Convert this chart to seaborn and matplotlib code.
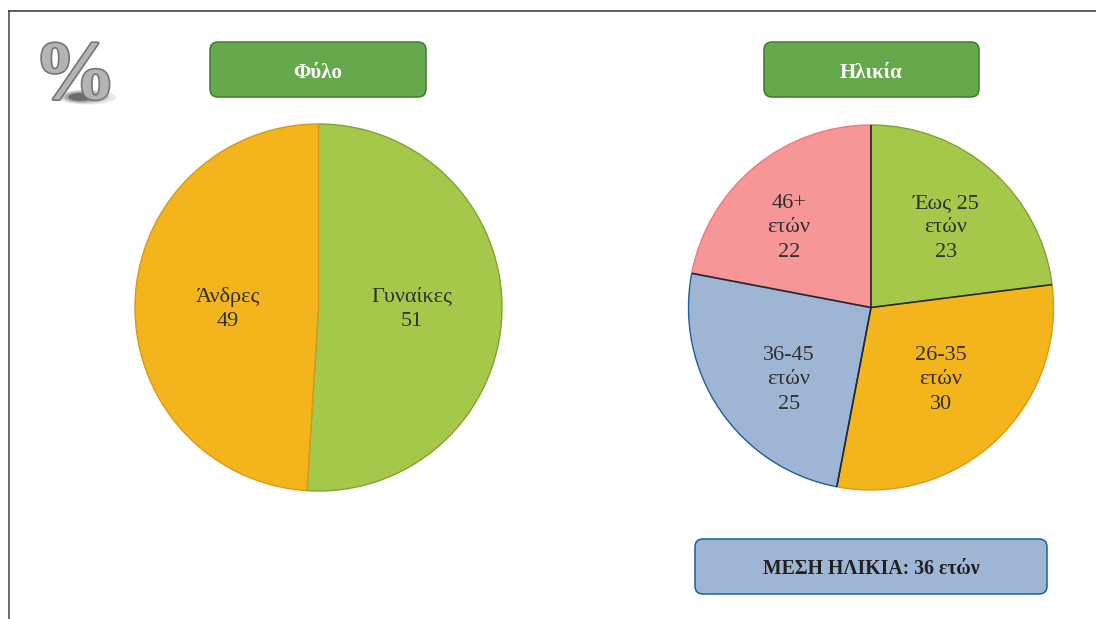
import matplotlib
matplotlib.use("Agg")
import matplotlib.pyplot as plt
import matplotlib.patheffects as pe
from matplotlib.patches import FancyBboxPatch, Ellipse
import numpy as np
import seaborn as sns

sns.set_theme(style="white")
plt.rcParams['font.family'] = ['Liberation Serif', 'DejaVu Serif']

W, H = 1096, 619

gender_labels = ["Γυναίκες\n51", "Άνδρες\n49"]
gender_values = [51, 49]
gender_colors = ["#A5C84A", "#F3B51B"]
gender_edges = ["#7FA52E", "#D99A1C"]

age_labels = ["Έως 25\nετών\n23", "26-35\nετών\n30", "36-45\nετών\n25", "46+\nετών\n22"]
age_values = [23, 30, 25, 22]
age_colors = ["#A5C84A", "#F3B51B", "#9FB5D4", "#F69696"]
age_edges = ["#7FA52E", "#D99A1C", "#1A5F9E", "#EE7B7B"]

fig = plt.figure(figsize=(W / 100, H / 100), dpi=100, facecolor="white")

# Overlay in pixel units for frame, header boxes and labels
canvas = fig.add_axes([0, 0, 1, 1], zorder=3)
canvas.set_xlim(0, W)
canvas.set_ylim(H, 0)
canvas.axis("off")
canvas.patch.set_alpha(0)


def pie_axes(cx, cy, r):
    return fig.add_axes([(cx - r) / W, 1 - (cy + r) / H, 2 * r / W, 2 * r / H])


def draw_pie(ax, values, colors, edges, spoke):
    wedges, _ = ax.pie(values, colors=colors, startangle=90, counterclock=False,
                       radius=1.0, wedgeprops={"linewidth": 1.0})
    for wedge, edge in zip(wedges, edges):
        wedge.set_edgecolor(edge)
    # Dark spokes separating the slices, taken from the wedge angles
    if spoke:
        for wedge in wedges:
            angle = np.deg2rad(wedge.theta1)
            ax.plot([0, np.cos(angle)], [0, np.sin(angle)], color=spoke, lw=1.2,
                    solid_capstyle="butt")
    ax.set_xlim(-1, 1)
    ax.set_ylim(-1, 1)
    return wedges


draw_pie(pie_axes(318.5, 307.5, 183.5), gender_values, gender_colors, gender_edges, None)
draw_pie(pie_axes(871, 307.5, 182.5), age_values, age_colors, age_edges, "#1F2A38")

label_style = dict(ha="center", va="center", fontsize=16, color="#303030", linespacing=1.4)
for text, (x, y) in zip(gender_labels, [(412, 309), (228, 309)]):
    canvas.text(x, y, text, **label_style)
for text, (x, y) in zip(age_labels, [(946, 228), (941, 380), (789, 380), (789, 228)]):
    canvas.text(x, y, text, **label_style)


def box(x0, y0, x1, y1, face, edge, text, color, size):
    canvas.add_patch(FancyBboxPatch((x0 + 8, y0 + 8), x1 - x0 - 16, y1 - y0 - 16,
                                    boxstyle="round,pad=8,rounding_size=8",
                                    fc=face, ec=edge, lw=1.1))
    canvas.text((x0 + x1) / 2, (y0 + y1) / 2 + 3, text, ha="center", va="center",
                color=color, fontsize=size, fontweight="bold")


box(210, 42, 426, 97, "#66A84C", "#3F7A30", "Φύλο", "white", 15)
box(764, 42, 979, 97, "#66A84C", "#3F7A30", "Ηλικία", "white", 15)
box(695, 539, 1047, 594, "#9FB5D4", "#1A5F9E", "ΜΕΣΗ ΗΛΙΚΙΑ: 36 ετών", "#231F20", 14.2)

# Page frame: top and left rules only
canvas.plot([8, W], [10.5, 10.5], color="#333333", lw=1.1, solid_capstyle="butt")
canvas.plot([8.5, 8.5], [10, H], color="#444444", lw=1.1, solid_capstyle="butt")

# Percent emblem with a soft floor shadow
for w, h, c in [(58, 15, "#E8E8EA"), (48, 13, "#D0D0D2"), (36, 11, "#A8A8AA"), (24, 8, "#6C6C6E")]:
    canvas.add_patch(Ellipse((87 - (58 - w) * 0.2, 97), w, h, fc=c, ec="none"))
canvas.text(75, 79, "%", ha="center", va="center", fontsize=60, fontweight="bold",
            color="#B4B4B4",
            path_effects=[pe.withStroke(linewidth=2.4, foreground="#757575")])

fig.savefig("out.png", dpi=100)
